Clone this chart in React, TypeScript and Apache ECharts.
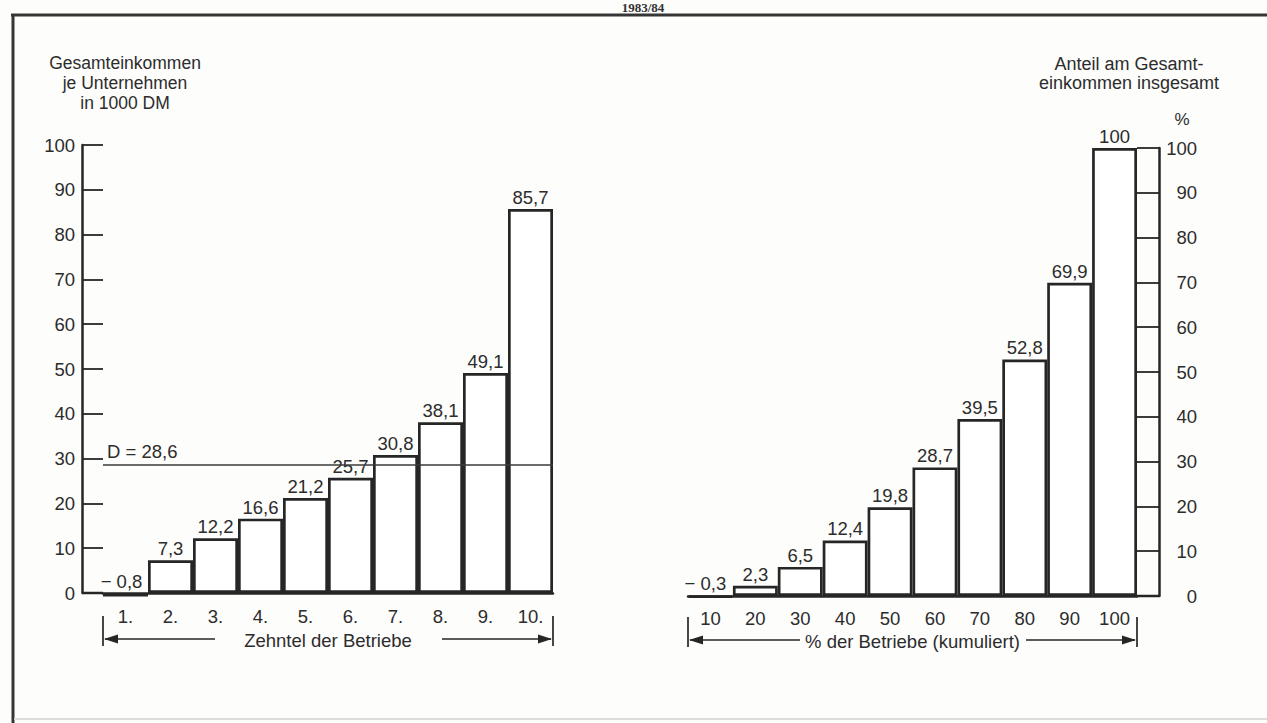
import { useEffect, useRef } from 'react';
import * as echarts from 'echarts';

// ---- data ----
const deciles = ['1.', '2.', '3.', '4.', '5.', '6.', '7.', '8.', '9.', '10.'];
const incomePerFirm = [-0.8, 7.3, 12.2, 16.6, 21.2, 25.7, 30.8, 38.1, 49.1, 85.7];
const averageIncome = 28.6;
const firmShares = ['10', '20', '30', '40', '50', '60', '70', '80', '90', '100'];
const incomeShares = [-0.3, 2.3, 6.5, 12.4, 19.8, 28.7, 39.5, 52.8, 69.9, 100];
const leftTitle = ['Gesamteinkommen', 'je Unternehmen', 'in 1000 DM'];
const rightTitle = ['Anteil am Gesamt-', 'einkommen insgesamt'];
const rightUnit = '%';
const leftAxisTitle = 'Zehntel der Betriebe';
const rightAxisTitle = '% der Betriebe (kumuliert)';
const yearLabel = '1983/84';

const FONT = '"Liberation Sans", Arial, Helvetica, sans-serif';
const INK = '#262626';
const TXT = '#2c2c2c';
const LBL = 18.5;

const fmt = (v: number) => {
  const a = Math.abs(v);
  const s = Number.isInteger(a) ? String(a) : a.toFixed(1).replace('.', ',');
  return v < 0 ? '\u2212 ' + s : s;
};

const GL = { left: 103, top: 145, width: 450, height: 448 };
const GR = { left: 688, top: 148, width: 449, height: 448 };
const OFF_L = 21;
const OFF_R = 22;

function barData(values: number[], negOffset: number) {
  return values.map((v) =>
    v < 0 ? { value: v, label: { offset: [negOffset, 0] } } : v
  );
}

function bracket(
  x0: number,
  x1: number,
  y: number,
  text: string,
  gapL: number,
  gapR: number
) {
  const cx = (x0 + x1) / 2;
  const ls = { stroke: INK, lineWidth: 1.7 };
  const ah = 15;
  const hw = 4.5;
  return [
    { type: 'line', shape: { x1: x0, y1: y - 23, x2: x0, y2: y + 7 }, style: { stroke: INK, lineWidth: 1.7 } },
    { type: 'line', shape: { x1: x1, y1: y - 23, x2: x1, y2: y + 7 }, style: { stroke: INK, lineWidth: 1.7 } },
    { type: 'line', shape: { x1: x0 + 2, y1: y, x2: gapL, y2: y }, style: ls },
    { type: 'line', shape: { x1: gapR, y1: y, x2: x1 - 2, y2: y }, style: ls },
    {
      type: 'polygon',
      shape: { points: [[x0 + 1, y], [x0 + ah, y - hw], [x0 + ah, y + hw]] },
      style: { fill: INK },
    },
    {
      type: 'polygon',
      shape: { points: [[x1 - 1, y], [x1 - ah, y - hw], [x1 - ah, y + hw]] },
      style: { fill: INK },
    },
    {
      type: 'text',
      x: cx,
      y: y + 1,
      style: { text, font: `${LBL}px ${FONT}`, fill: TXT, align: 'center', verticalAlign: 'middle' },
    },
  ];
}

export default function App() {
  const ref = useRef<HTMLDivElement>(null);

  useEffect(() => {
    if (!ref.current) return;
    const chart = echarts.init(ref.current, null, { renderer: 'svg' });

    const lblBase = { fontFamily: FONT, fontSize: LBL, color: TXT };
    const leftBottom = GL.top + GL.height;
    const rightBottom = GR.top + GR.height;

    const option: any = {
      animation: false,
      backgroundColor: '#fdfdfc',
      grid: [
        { left: GL.left, top: GL.top, width: GL.width, height: GL.height, containLabel: false },
        { left: GR.left, top: GR.top, width: GR.width, height: GR.height, containLabel: false },
      ],
      xAxis: [
        {
          type: 'category',
          gridIndex: 0,
          data: deciles,
          axisLine: { show: true, onZero: false, lineStyle: { color: INK, width: 2.5 } },
          axisTick: { show: false },
          axisLabel: { ...lblBase, margin: 14 },
        },
        {
          type: 'category',
          gridIndex: 1,
          data: firmShares,
          axisLine: { show: true, onZero: false, lineStyle: { color: INK, width: 2.5 } },
          axisTick: { show: false },
          axisLabel: { ...lblBase, margin: 13 },
        },
      ],
      yAxis: [
        {
          type: 'value',
          gridIndex: 0,
          position: 'left',
          offset: OFF_L,
          min: 0,
          max: 100,
          interval: 10,
          axisLine: { show: true, lineStyle: { color: INK, width: 2.5 } },
          axisTick: { show: true, inside: true, length: OFF_L, lineStyle: { color: INK, width: 1.8 } },
          axisLabel: { ...lblBase, margin: 7 },
          splitLine: { show: false },
        },
        {
          type: 'value',
          gridIndex: 1,
          position: 'right',
          offset: OFF_R,
          min: 0,
          max: 100,
          interval: 10,
          axisLine: { show: true, lineStyle: { color: INK, width: 2.5 } },
          axisTick: { show: true, inside: true, length: OFF_R, lineStyle: { color: INK, width: 1.8 } },
          axisLabel: { ...lblBase, margin: 38, align: 'right' },
          splitLine: { show: false },
        },
      ],
      series: [
        {
          type: 'bar',
          xAxisIndex: 0,
          yAxisIndex: 0,
          data: barData(incomePerFirm, -4),
          barCategoryGap: '0%',
          clip: false,
          itemStyle: { color: '#ffffff', borderColor: INK, borderWidth: 2.7 },
          label: {
            show: true,
            position: 'top',
            distance: 2,
            ...lblBase,
            formatter: (p: any) => fmt(p.value),
          },
          markLine: {
            silent: true,
            symbol: ['none', 'none'],
            lineStyle: { color: '#3a3a3a', width: 1.5, type: 'solid' },
            label: {
              show: true,
              position: 'insideStartTop',
              distance: [4, 4],
              ...lblBase,
              formatter: () => `D = ${fmt(averageIncome)}`,
            },
            data: [{ yAxis: averageIncome }],
          },
          z: 2,
        },
        {
          type: 'bar',
          xAxisIndex: 1,
          yAxisIndex: 1,
          data: barData(incomeShares, -5),
          barCategoryGap: '0%',
          clip: false,
          itemStyle: { color: '#ffffff', borderColor: INK, borderWidth: 2.7 },
          label: {
            show: true,
            position: 'top',
            distance: 2,
            ...lblBase,
            formatter: (p: any) => fmt(p.value),
          },
          z: 2,
        },
      ],
      graphic: [
        // frame
        { type: 'line', shape: { x1: 11, y1: 15, x2: 1267, y2: 15 }, style: { stroke: '#363636', lineWidth: 3 } },
        { type: 'line', shape: { x1: 13, y1: 14, x2: 13, y2: 723 }, style: { stroke: '#363636', lineWidth: 3 } },
        { type: 'line', shape: { x1: 14, y1: 719, x2: 1267, y2: 719 }, style: { stroke: '#dcdcdc', lineWidth: 2 } },
        // year label above the frame
        {
          type: 'text',
          x: 643,
          y: 7,
          style: { text: yearLabel, font: `bold 13px "Liberation Serif", serif`, fill: '#333', align: 'center', verticalAlign: 'middle' },
        },
        // baseline extensions to the offset axes
        { type: 'line', shape: { x1: GL.left - OFF_L, y1: leftBottom, x2: GL.left, y2: leftBottom }, style: { stroke: INK, lineWidth: 2.5 } },
        { type: 'line', shape: { x1: GR.left + GR.width, y1: rightBottom, x2: GR.left + GR.width + OFF_R, y2: rightBottom }, style: { stroke: INK, lineWidth: 2.5 } },
        // titles
        {
          type: 'text',
          x: 125,
          y: 53,
          style: { text: leftTitle.join('\n'), font: `17.5px ${FONT}`, lineHeight: 20, fill: TXT, align: 'center', verticalAlign: 'top' },
        },
        {
          type: 'text',
          x: 1129,
          y: 55,
          style: { text: rightTitle.join('\n'), font: `18px ${FONT}`, lineHeight: 18.5, fill: TXT, align: 'center', verticalAlign: 'top' },
        },
        {
          type: 'text',
          x: 1182,
          y: 119,
          style: { text: rightUnit, font: `17px ${FONT}`, fill: TXT, align: 'center', verticalAlign: 'middle' },
        },
        ...bracket(GL.left, GL.left + GL.width, 639, leftAxisTitle, 215, 442),
        ...bracket(GR.left, GR.left + GR.width, 640, rightAxisTitle, 800, 1026),
      ],
    };

    chart.setOption(option);
    return () => chart.dispose();
  }, []);

  return (
    <div
      ref={ref}
      style={{ position: 'fixed', left: 0, top: 0, width: 1267, height: 723, background: '#fdfdfc' }}
    />
  );
}
